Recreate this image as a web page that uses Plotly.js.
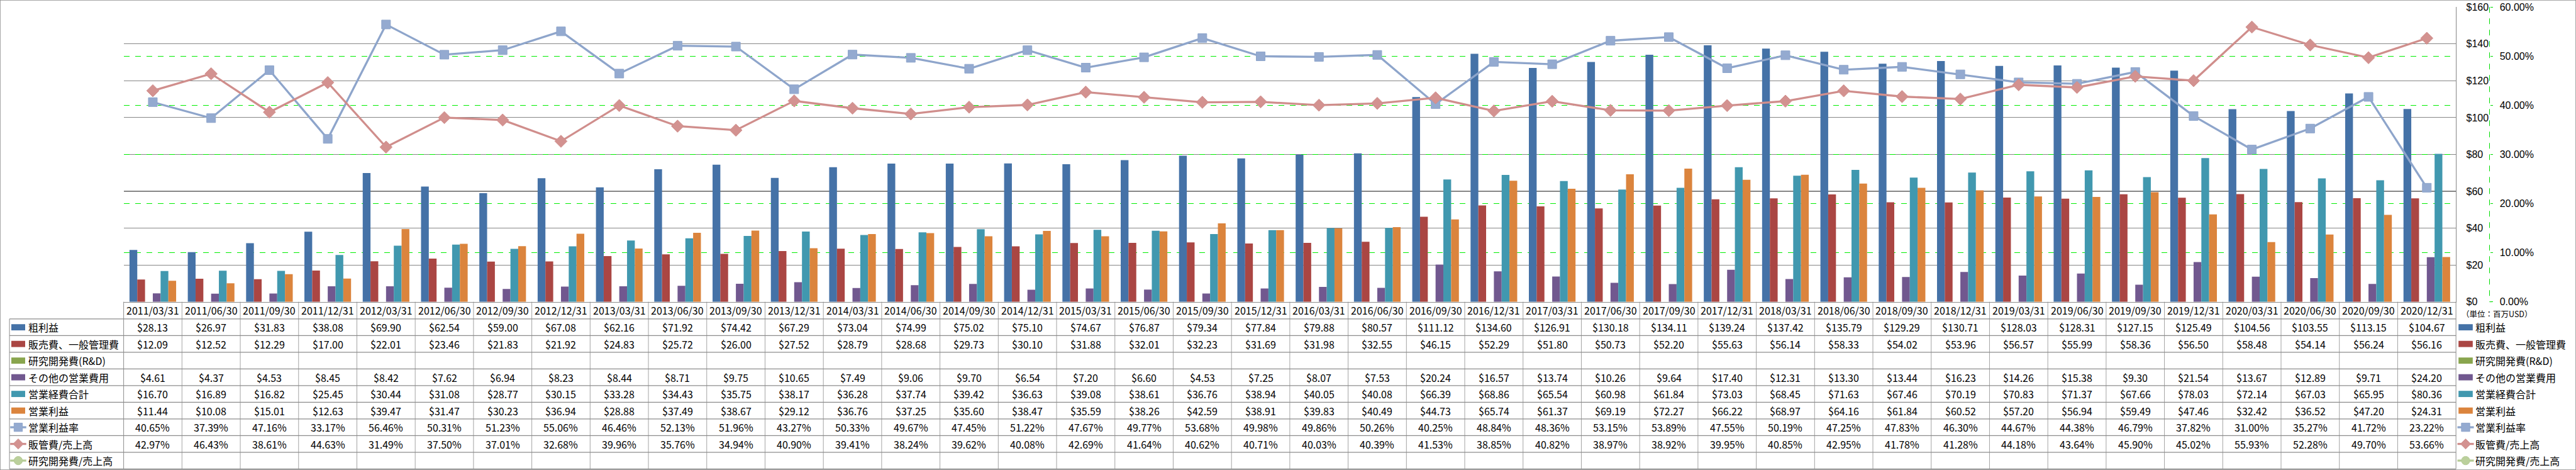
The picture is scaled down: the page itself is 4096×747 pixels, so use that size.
<!DOCTYPE html>
<html><head><meta charset="utf-8">
<script src="https://cdn.plot.ly/plotly-3.0.1.min.js"></script>
<style>html,body{margin:0;padding:0;background:#fff;} #chart{width:4096px;height:747px;}</style>
</head><body><div id="chart"></div>
<script>
// ---------- DATA ----------
const dates = ['2011/03/31','2011/06/30','2011/09/30','2011/12/31','2012/03/31','2012/06/30','2012/09/30','2012/12/31',
  '2013/03/31','2013/06/30','2013/09/30','2013/12/31','2014/03/31','2014/06/30','2014/09/30','2014/12/31',
  '2015/03/31','2015/06/30','2015/09/30','2015/12/31','2016/03/31','2016/06/30','2016/09/30','2016/12/31',
  '2017/03/31','2017/06/30','2017/09/30','2017/12/31','2018/03/31','2018/06/30','2018/09/30','2018/12/31',
  '2019/03/31','2019/06/30','2019/09/30','2019/12/31','2020/03/31','2020/06/30','2020/09/30','2020/12/31'];
const grossProfit = [28.13,26.97,31.83,38.08,69.90,62.54,59.00,67.08,62.16,71.92,74.42,67.29,73.04,74.99,75.02,75.10,
  74.67,76.87,79.34,77.84,79.88,80.57,111.12,134.60,126.91,130.18,134.11,139.24,137.42,135.79,129.29,130.71,
  128.03,128.31,127.15,125.49,104.56,103.55,113.15,104.67];
const sgaExpense = [12.09,12.52,12.29,17.00,22.01,23.46,21.83,21.92,24.83,25.72,26.00,27.52,28.79,28.68,29.73,30.10,
  31.88,32.01,32.23,31.69,31.98,32.55,46.15,52.29,51.80,50.73,52.20,55.63,56.14,58.33,54.02,53.96,
  56.57,55.99,58.36,56.50,58.48,54.14,56.24,56.16];
const rdExpense = [null,null,null,null,null,null,null,null,null,null,null,null,null,null,null,null,null,null,null,null,
  null,null,null,null,null,null,null,null,null,null,null,null,null,null,null,null,null,null,null,null];
const otherOpex = [4.61,4.37,4.53,8.45,8.42,7.62,6.94,8.23,8.44,8.71,9.75,10.65,7.49,9.06,9.70,6.54,
  7.20,6.60,4.53,7.25,8.07,7.53,20.24,16.57,13.74,10.26,9.64,17.40,12.31,13.30,13.44,16.23,
  14.26,15.38,9.30,21.54,13.67,12.89,9.71,24.20];
const totalOpex = [16.70,16.89,16.82,25.45,30.44,31.08,28.77,30.15,33.28,34.43,35.75,38.17,36.28,37.74,39.42,36.63,
  39.08,38.61,36.76,38.94,40.05,40.08,66.39,68.86,65.54,60.98,61.84,73.03,68.45,71.63,67.46,70.19,
  70.83,71.37,67.66,78.03,72.14,67.03,65.95,80.36];
const operatingIncome = [11.44,10.08,15.01,12.63,39.47,31.47,30.23,36.94,28.88,37.49,38.67,29.12,36.76,37.25,35.60,38.47,
  35.59,38.26,42.59,38.91,39.83,40.49,44.73,65.74,61.37,69.19,72.27,66.22,68.97,64.16,61.84,60.52,
  57.20,56.94,59.49,47.46,32.42,36.52,47.20,24.31];
const opMargin = [40.65,37.39,47.16,33.17,56.46,50.31,51.23,55.06,46.46,52.13,51.96,43.27,50.33,49.67,47.45,51.22,
  47.67,49.77,53.68,49.98,49.86,50.26,40.25,48.84,48.36,53.15,53.89,47.55,50.19,47.25,47.83,46.30,
  44.67,44.38,46.79,37.82,31.00,35.27,41.72,23.22];
const sgaRatio = [42.97,46.43,38.61,44.63,31.49,37.50,37.01,32.68,39.96,35.76,34.94,40.90,39.41,38.24,39.62,40.08,
  42.69,41.64,40.62,40.71,40.03,40.39,41.53,38.85,40.82,38.97,38.92,39.95,40.85,42.95,41.78,41.28,
  44.18,43.64,45.90,45.02,55.93,52.28,49.70,53.66];
const rdRatio = [null,null,null,null,null,null,null,null,null,null,null,null,null,null,null,null,null,null,null,null,
  null,null,null,null,null,null,null,null,null,null,null,null,null,null,null,null,null,null,null,null];
const yTicks = [0,20,40,60,80,100,120,140,160];
const yTickText = ['$0','$20','$40','$60','$80','$100','$120','$140','$160'];
const y2Ticks = [0,10,20,30,40,50,60];
const y2TickText = ['0.00%','10.00%','20.00%','30.00%','40.00%','50.00%','60.00%'];
const unitLabel = '（単位：百万USD）';

// ---------- GEOMETRY (reference px * 0.58) ----------
const W = 4096, H = 747, K = 0.58;
const PX = v => v * K / W;          // reference x -> paper
const PY = v => 1 - v * K / H;      // reference y -> paper
const FONT = '"Noto Sans CJK JP", "Noto Sans", sans-serif';
const TICKFONT = '"Liberation Sans", Arial, sans-serif';
const GRID = '#868686', TBL = '#8c8c8c';

const plotL = 339, plotR = 6733, plotT = 19.4, plotB = 827;
const hdrB = 874, rowH = (1285 - 874) / 9;
const rowC = i => hdrB + rowH * (i + 0.5);

const C = {blue:'#4572A7', red:'#AA4643', green:'#89A54E', purple:'#71588F', teal:'#4198AF', orange:'#DB843D',
  lBlue:'#8EA5CB', lBlueM:'#94AAD0', pink:'#D08E8C', pinkM:'#D39290', lGreen:'#B5CB95', lGreenM:'#BBD09C'};

const rows = [
  {name:'粗利益', data:grossProfit, kind:'bar', color:C.blue, fmt:'$'},
  {name:'販売費、一般管理費', data:sgaExpense, kind:'bar', color:C.red, fmt:'$'},
  {name:'研究開発費(R&D)', data:rdExpense, kind:'bar', color:C.green, fmt:'$'},
  {name:'その他の営業費用', data:otherOpex, kind:'bar', color:C.purple, fmt:'$'},
  {name:'営業経費合計', data:totalOpex, kind:'bar', color:C.teal, fmt:'$'},
  {name:'営業利益', data:operatingIncome, kind:'bar', color:C.orange, fmt:'$'},
  {name:'営業利益率', data:opMargin, kind:'line', color:C.lBlue, mcolor:C.lBlueM, symbol:'square', fmt:'%'},
  {name:'販管費/売上高', data:sgaRatio, kind:'line', color:C.pink, mcolor:C.pinkM, symbol:'diamond', fmt:'%'},
  {name:'研究開発費/売上高', data:rdRatio, kind:'line', color:C.lGreen, mcolor:C.lGreenM, symbol:'circle', fmt:'%'}
];

// ---------- TRACES ----------
const traces = [];
rows.forEach(r => {
  if (r.kind === 'bar') {
    traces.push({type:'bar', name:r.name, x:dates, y:r.data, yaxis:'y',
      marker:{color:r.color, line:{width:0}}, hoverinfo:'skip'});
  }
});
rows.forEach(r => {
  if (r.kind === 'line') {
    traces.push({type:'scatter', mode:'lines+markers', name:r.name, x:dates, y:r.data, yaxis:'y2',
      line:{color:r.color, width:3.3},
      marker:{symbol:r.symbol, size: r.symbol === 'diamond' ? 15 : 14, color:r.mcolor, line:{color:r.color, width:1}},
      hoverinfo:'skip'});
  }
});

// ---------- SHAPES & ANNOTATIONS ----------
const shapes = [], annotations = [];
const ln = (x0, y0, x1, y1, color, width, dash) => shapes.push({type:'line', xref:'paper', yref:'paper',
  x0:PX(x0), y0:PY(y0), x1:PX(x1), y1:PY(y1), line:{color, width, dash: dash || 'solid'}});

// outer border
shapes.push({type:'rect', xref:'paper', yref:'paper', x0:0, y0:0, x1:1, y1:1, line:{color:TBL, width:1.5}});
// secondary axis dashed line
ln(6825, plotT, 6825, plotB, '#00dd00', 1, 'dash');
ln(6825, plotB, 6832, plotB, '#00dd00', 1);

// table horizontal lines
ln(26, hdrB, plotR, hdrB, TBL, 1.2);
for (let i = 1; i <= 9; i++) ln(26, hdrB + rowH * i, plotR, hdrB + rowH * i, TBL, 1.2);
// table vertical lines
ln(26, hdrB, 26, 1285, TBL, 1);
ln(plotL, plotB, plotL, 1285, TBL, 1);
ln(plotR, plotB, plotR, 1285, TBL, 1);
for (let i = 0; i < dates.length - 1; i++) {
  shapes.push({type:'line', xref:'x', yref:'paper', x0:i + 0.5, x1:i + 0.5, y0:PY(plotB), y1:PY(1285),
    line:{color:TBL, width:0.8}});
}

// header dates
dates.forEach(d => annotations.push({xref:'x', yref:'paper', x:d, y:PY((plotB + hdrB) / 2), text:d,
  showarrow:false, xanchor:'center', yanchor:'middle', font:{family:FONT, size:16, color:'#000'}}));

// legend key helper (reference coords)
function key(r, xL, xR, yc) {
  const cx = (xL + xR) / 2;
  if (r.kind === 'bar') {
    shapes.push({type:'rect', xref:'paper', yref:'paper', x0:PX(xL + 3), x1:PX(xR - 3),
      y0:PY(yc - 8.5), y1:PY(yc + 8.5), line:{width:0}, fillcolor:r.color});
  } else {
    ln(xL, yc, xR, yc, r.color, 3.3);
    const h = 11.5; // ref px half-size
    if (r.symbol === 'square') {
      shapes.push({type:'rect', xref:'paper', yref:'paper', x0:PX(cx - h), x1:PX(cx + h), y0:PY(yc - h), y1:PY(yc + h),
        line:{color:r.color, width:1}, fillcolor:r.mcolor});
    } else if (r.symbol === 'diamond') {
      const d = 14;
      shapes.push({type:'path', xref:'paper', yref:'paper',
        path:`M ${PX(cx)} ${PY(yc - d)} L ${PX(cx + d)} ${PY(yc)} L ${PX(cx)} ${PY(yc + d)} L ${PX(cx - d)} ${PY(yc)} Z`,
        line:{color:r.color, width:1}, fillcolor:r.mcolor});
    } else {
      shapes.push({type:'circle', xref:'paper', yref:'paper', x0:PX(cx - h), x1:PX(cx + h), y0:PY(yc - h), y1:PY(yc + h),
        line:{color:r.color, width:1}, fillcolor:r.mcolor});
    }
  }
}

rows.forEach((r, i) => {
  const yc = rowC(i);
  // table row label
  key(r, 28, 72, yc);
  annotations.push({xref:'paper', yref:'paper', x:PX(74), y:PY(yc), text:r.name, showarrow:false,
    xanchor:'left', yanchor:'middle', font:{family:FONT, size:16, color:'#000'}});
  // right legend
  key(r, 6737, 6782, yc);
  annotations.push({xref:'paper', yref:'paper', x:PX(6783), y:PY(yc), text:r.name, showarrow:false,
    xanchor:'left', yanchor:'middle', font:{family:FONT, size:16, color:'#000'}});
  // cells
  r.data.forEach((v, j) => {
    if (v === null) return;
    const t = r.fmt === '$' ? '$' + v.toFixed(2) : v.toFixed(2) + '%';
    annotations.push({xref:'x', yref:'paper', x:dates[j], y:PY(yc), text:t, showarrow:false,
      xanchor:'center', yanchor:'middle', font:{family:FONT, size:16, color:'#000'}});
  });
});

annotations.push({xref:'paper', yref:'paper', x:PX(6745), y:PY(860), text:unitLabel, showarrow:false,
  xanchor:'left', yanchor:'middle', font:{family:FONT, size:12.5, color:'#000'}});

// ---------- LAYOUT ----------
const layout = {
  width:W, height:H, margin:{l:0, r:0, t:0, b:0, pad:0},
  paper_bgcolor:'#fff', plot_bgcolor:'#fff',
  barmode:'group', bargap:0.2, bargroupgap:0,
  showlegend:false, hovermode:false,
  font:{family:FONT, size:16, color:'#000'},
  xaxis:{type:'category', domain:[PX(plotL), PX(plotR)], range:[-0.5, dates.length - 0.5],
    showticklabels:false, ticks:'', showgrid:false, zeroline:false,
    showline:true, linecolor:TBL, linewidth:1.2, fixedrange:true},
  yaxis:{domain:[PY(plotB), PY(plotT)], range:[0, 160], tickmode:'array', tickvals:yTicks, ticktext:yTickText,
    side:'right', showline:true, linecolor:GRID, linewidth:1.2, showgrid:true, gridcolor:GRID, gridwidth:1.1,
    zeroline:false, ticks:'', ticklabelstandoff:12, ticklabeloverflow:'allow',
    tickfont:{family:TICKFONT, size:16, color:'#000'}, fixedrange:true},
  yaxis2:{overlaying:'y', side:'right', anchor:'free', position:PX(6825), range:[0, 60],
    tickmode:'array', tickvals:y2Ticks, ticktext:y2TickText,
    showgrid:true, gridcolor:'#00ee00', griddash:'dash', gridwidth:1,
    zeroline:false, showline:false, ticks:'outside', ticklen:4, tickcolor:'#00dd00', tickwidth:1,
    ticklabelstandoff:8, ticklabeloverflow:'allow', tickfont:{family:TICKFONT, size:16, color:'#000'}, fixedrange:true},
  shapes, annotations
};

Plotly.newPlot('chart', traces, layout, {staticPlot:true, displayModeBar:false});
</script></body></html>
